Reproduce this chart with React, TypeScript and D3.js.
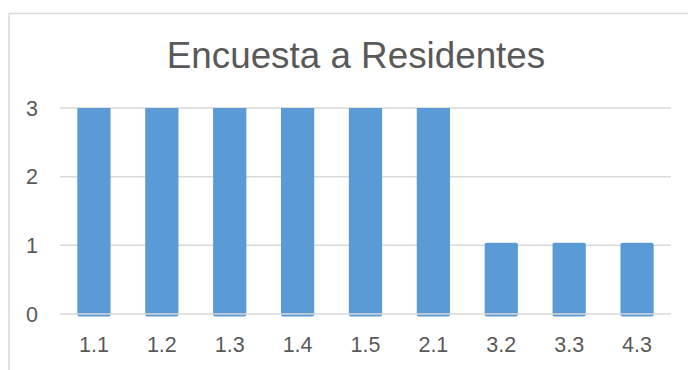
import React from "react";
import * as d3 from "d3";

const categories = ["1.1", "1.2", "1.3", "1.4", "1.5", "2.1", "3.2", "3.3", "4.3"];
const values = [3, 3, 3, 3, 3, 3, 1, 1, 1];
const yTicks = [0, 1, 2, 3];
const title = "Encuesta a Residentes";

const W = 688;
const H = 370;
const plot = { left: 60, right: 671, top: 108, bottom: 314 };
const barColor = "#5B9BD5";
const gridColor = "#D9D9D9";
const textColor = "#595959";
const font = "'Liberation Sans', Arial, sans-serif";

export default function App() {
  const x = d3
    .scaleBand<string>()
    .domain(categories)
    .range([plot.left, plot.right])
    .paddingInner(0.51)
    .paddingOuter(0.255);
  const y = d3.scaleLinear().domain([0, 3]).range([plot.bottom, plot.top]);
  const ext = 2.5;

  return (
    <svg
      width={W}
      height={H}
      style={{ position: "absolute", left: 0, top: 0, background: "#fff" }}
    >
      <defs>
        <clipPath id="plotClip">
          <rect x={0} y={plot.top} width={W} height={H - plot.top} />
        </clipPath>
      </defs>
      {/* chart frame */}
      <line x1={9} y1={13.5} x2={W} y2={13.5} stroke={gridColor} strokeWidth={1.5} />
      <line x1={9} y1={13.5} x2={9} y2={H} stroke={gridColor} strokeWidth={1.5} />

      <text
        x={356}
        y={68}
        textAnchor="middle"
        fontFamily={font}
        fontSize={36.8}
        fill={textColor}
      >
        {title}
      </text>

      {/* gridlines */}
      {yTicks.slice(1).map((t) => (
        <line
          key={t}
          x1={plot.left}
          x2={plot.right}
          y1={y(t)}
          y2={y(t)}
          stroke={gridColor}
          strokeWidth={1.5}
        />
      ))}

      {/* bars */}
      <g clipPath="url(#plotClip)">
        {categories.map((c, i) => (
          <rect
            key={c}
            x={x(c)}
            y={y(values[i]) - ext}
            width={x.bandwidth()}
            height={y(0) - y(values[i]) + 2 * ext}
            rx={2}
            fill={barColor}
          />
        ))}
      </g>

      {/* category axis line */}
      <line
        x1={plot.left}
        x2={plot.right}
        y1={y(0)}
        y2={y(0)}
        stroke={gridColor}
        strokeWidth={1.5}
      />

      {/* y tick labels */}
      {yTicks.map((t) => (
        <text
          key={t}
          x={38}
          y={y(t) + 7.7}
          textAnchor="end"
          fontFamily={font}
          fontSize={21.5}
          fill={textColor}
        >
          {t}
        </text>
      ))}

      {/* category labels */}
      {categories.map((c) => (
        <text
          key={c}
          x={(x(c) as number) + x.bandwidth() / 2}
          y={352}
          textAnchor="middle"
          fontFamily={font}
          fontSize={21.5}
          fill={textColor}
        >
          {c}
        </text>
      ))}
    </svg>
  );
}
